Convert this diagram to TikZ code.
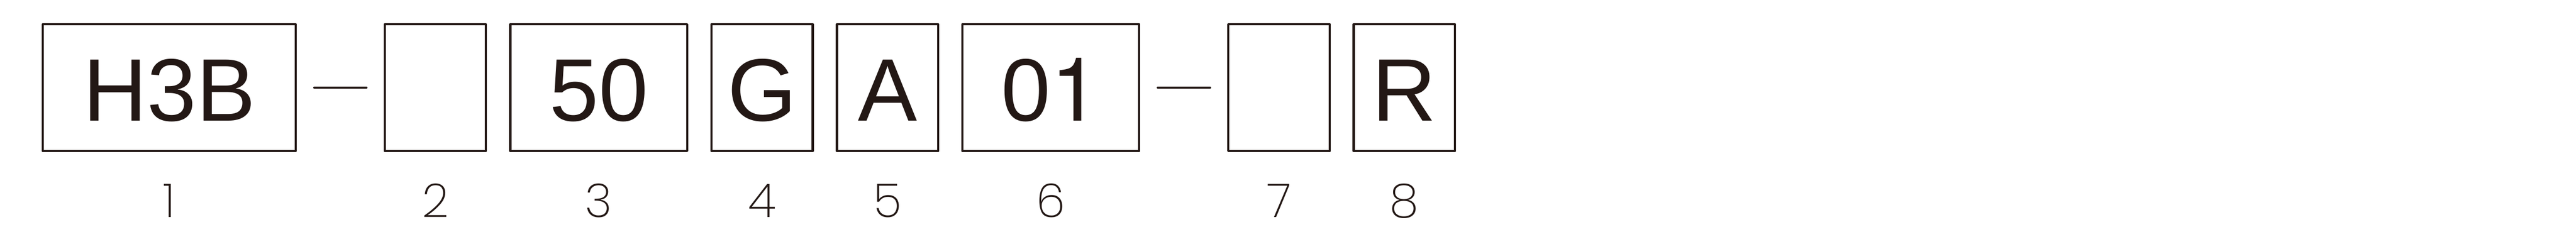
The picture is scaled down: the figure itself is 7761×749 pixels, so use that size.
\documentclass[tikz,border=0pt]{standalone}
\usepackage{fontspec}
\setmainfont{Liberation Sans}
\newfontfamily\herosfont{TeX Gyre Heros}
\newfontfamily\labfont{Poppins}[UprightFont=* ExtraLight]
\usetikzlibrary{calc}
\definecolor{ink}{RGB}{35,24,21}
\tikzset{
  codebox/.style={draw=ink, line width=0.67mm, line join=round, minimum height=38.13mm, inner sep=0pt, outer sep=0pt},
  wsmall/.style={minimum width=30.5mm},
  wmid/.style={minimum width=53.3mm},
  wbig/.style={minimum width=76.2mm},
  codetext/.style={anchor=base, inner sep=0pt, text=ink, font=\fontsize{76pt}{80pt}\selectfont},
  numtext/.style={anchor=base, inner sep=0pt, text=ink, font=\labfont\fontsize{40pt}{44pt}\selectfont},
  dashline/.style={draw=ink, line width=0.67mm, line cap=round}
}
\begin{document}
\begin{tikzpicture}[x=0.1mm,y=-0.1mm]
\useasboundingbox (0,0) rectangle (7761,749);
% boxes
\node[codebox,wbig]   (b1) at (509.85,263.85) {};
\node[codebox,wsmall] (b2) at (1311.5,263.85) {};
\node[codebox,wmid]   (b3) at (1803.8,263.85) {};
\node[codebox,wsmall] (b4) at (2296,263.85) {};
\node[codebox,wsmall] (b5) at (2674,263.85) {};
\node[codebox,wmid]   (b6) at (3165.75,263.85) {};
\node[codebox,wsmall] (b7) at (3853.25,263.85) {};
\node[codebox,wsmall] (b8) at (4230.75,263.85) {};
% codes
\node[codetext] (t1) at (509.85,363.6) {H3B};
\node[codetext] (t3) at (1803.8,363.6) {50};
\node[codetext] (t4) at (2296,363.6) {G};
\node[codetext] (t5) at (2674,363.6) {A};
\node[codetext] (t6) at (3165.75,363.6) {0{\herosfont 1}};
\node[codetext] (t8) at (4230.75,363.6) {R};
% dashes
\draw[dashline] ($(b1.east)+(56,0)$) -- ($(b2.west)+(-55,0)$);
\draw[dashline] ($(b6.east)+(56,0)$) -- ($(b7.west)+(-55,0)$);
% numbers
\node[numtext] (n1) at (509.85,654) {1};
\node[numtext] (n2) at (1311.5,654) {2};
\node[numtext] (n3) at (1803.8,654) {3};
\node[numtext] (n4) at (2296,654) {4};
\node[numtext] (n5) at (2674,654) {5};
\node[numtext] (n6) at (3165.75,654) {6};
\node[numtext] (n7) at (3853.25,654) {7};
\node[numtext] (n8) at (4230.75,654) {8};
\end{tikzpicture}
\end{document}
